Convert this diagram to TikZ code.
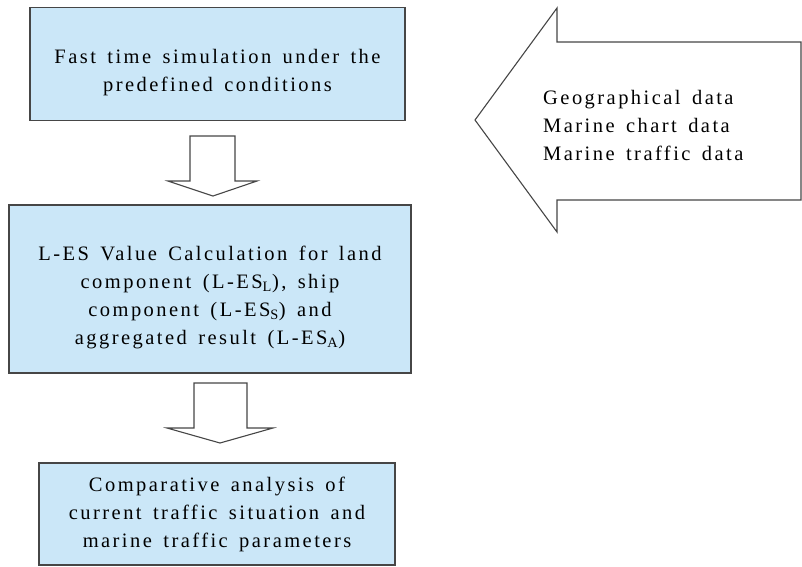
\documentclass[tikz,border=0pt]{standalone}
\usepackage{fontspec}
\setmainfont{Liberation Serif}[LetterSpace=12,WordSpace=1.5]
\definecolor{boxblue}{RGB}{203,231,248}
\definecolor{edge}{RGB}{70,70,70}
\newcommand\topgap[1]{\rule{0pt}{#1}}

\begin{document}
\begin{tikzpicture}[x=1pt,y=-1pt,
  stepbox/.style={draw=edge,line width=1.3pt,fill=boxblue,align=center,inner sep=0pt,
    font=\fontsize{20.5}{28}\selectfont},
  fat/.style={draw=edge,line width=1.1pt,fill=white,line join=miter}]
\useasboundingbox (0,0) rectangle (802,566);
% steps
\node[stepbox,minimum width=375,minimum height=113] (sim) at (217.5,64) {\topgap{31pt}Fast time simulation under the\\predefined conditions};
\node[stepbox,minimum width=402,minimum height=168] (calc) at (210,289) {\topgap{32pt}L-ES Value Calculation for land\\component (L-ES\textsubscript{L}), ship\\component (L-ES\textsubscript{S}) and\\aggregated result (L-ES\textsubscript{A})};
\node[stepbox,minimum width=356,minimum height=102] (comp) at (217,514) {Comparative analysis of\\current traffic situation and\\marine traffic parameters};
% block arrows between steps
\draw[fat] (190,136) -- (235,136) -- (235,181) -- (257,181) -- (213,196) -- (168,181) -- (190,181) -- cycle;
\draw[fat] (194,383) -- (247,383) -- (247,428) -- (273,428) -- (220,443) -- (167,428) -- (194,428) -- cycle;
% input data
\draw[fat] (801,42) -- (557,42) -- (557,8) -- (475,120) -- (557,232) -- (557,200) -- (801,200) -- cycle;
\node[align=left,anchor=west,inner sep=0pt,font=\fontsize{20.5}{28}\selectfont] (data) at (543,125) {Geographical data\\Marine chart data\\Marine traffic data};
\end{tikzpicture}
\end{document}
